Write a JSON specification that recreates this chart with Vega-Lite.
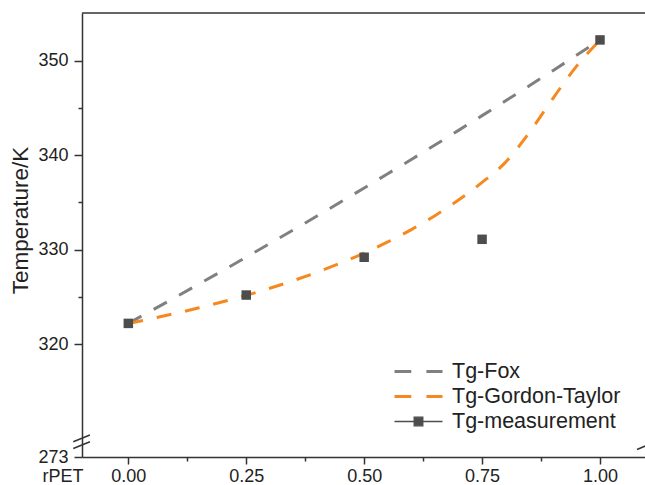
{
  "$schema": "https://vega.github.io/schema/vega-lite/v6.json",
  "width": 563,
  "height": 444,
  "autosize": "none",
  "padding": {"left": 82, "top": 13, "right": 0, "bottom": 28},
  "background": "white",
  "config": {"view": {"stroke": null}, "font": "Liberation Sans"},
  "datasets": {
    "measure": [
      {"x": 0, "T": 322.2},
      {"x": 0.25, "T": 325.2},
      {"x": 0.5, "T": 329.2},
      {"x": 0.75, "T": 331.1},
      {"x": 1, "T": 352.2}
    ],
    "fox": [
      {"x": 0, "T": 322.2}, {"x": 0.05, "T": 323.58}, {"x": 0.1, "T": 324.97}, {"x": 0.15, "T": 326.37},
      {"x": 0.2, "T": 327.78}, {"x": 0.25, "T": 329.21}, {"x": 0.3, "T": 330.65}, {"x": 0.35, "T": 332.1},
      {"x": 0.4, "T": 333.56}, {"x": 0.45, "T": 335.04}, {"x": 0.5, "T": 336.53}, {"x": 0.55, "T": 338.04},
      {"x": 0.6, "T": 339.55}, {"x": 0.65, "T": 341.08}, {"x": 0.7, "T": 342.63}, {"x": 0.75, "T": 344.19},
      {"x": 0.8, "T": 345.76}, {"x": 0.85, "T": 347.35}, {"x": 0.9, "T": 348.95}, {"x": 0.95, "T": 350.57},
      {"x": 1, "T": 352.2}
    ],
    "gt": [
      {"x": 0, "T": 322.2}, {"x": 0.05, "T": 322.71}, {"x": 0.1, "T": 323.26}, {"x": 0.15, "T": 323.85},
      {"x": 0.2, "T": 324.49}, {"x": 0.25, "T": 325.17}, {"x": 0.3, "T": 325.92}, {"x": 0.35, "T": 326.73},
      {"x": 0.4, "T": 327.61}, {"x": 0.45, "T": 328.58}, {"x": 0.5, "T": 329.64}, {"x": 0.55, "T": 330.82},
      {"x": 0.6, "T": 332.13}, {"x": 0.65, "T": 333.6}, {"x": 0.7, "T": 335.25}, {"x": 0.75, "T": 337.12},
      {"x": 0.8, "T": 339.27}, {"x": 0.85, "T": 342.4}, {"x": 0.9, "T": 346.0}, {"x": 0.95, "T": 349.4},
      {"x": 1, "T": 352.2}
    ],
    "series": [
      {"series": "Tg-Fox"}, {"series": "Tg-Gordon-Taylor"}, {"series": "Tg-measurement"}
    ]
  },
  "layer": [
    {
      "data": {"name": "fox"},
      "mark": {"type": "line", "color": "#808080", "strokeWidth": 3, "strokeDash": [15, 14], "interpolate": "monotone"},
      "encoding": {
        "x": {
          "field": "x", "type": "quantitative",
          "scale": {"domain": [-0.0982, 1.0954], "nice": false, "zero": false},
          "axis": {
            "title": "rPET",
            "values": [0, 0.125, 0.25, 0.375, 0.5, 0.625, 0.75, 0.875, 1],
            "labelExpr": "(datum.value * 8) % 2 == 1 ? '' : format(datum.value, '.2f')",
            "tickSize": {"condition": {"test": "(datum.value * 8) % 2 == 1", "value": 4}, "value": 7},
            "grid": false,
            "domainColor": "#333333", "domainWidth": 1.5,
            "tickColor": "#333333", "tickWidth": 1.5,
            "labelFontSize": 18, "labelColor": "#222222", "labelPadding": 3, "labelFlush": false,
            "titleFontSize": 18, "titleFontWeight": "normal", "titleColor": "#222222",
            "titleAnchor": "start", "titleAlign": "left", "titleBaseline": "alphabetic",
            "titleX": -40, "titleY": 24.5
          }
        },
        "y": {
          "field": "T", "type": "quantitative",
          "scale": {"domain": [308.06, 355.05], "nice": false, "zero": false},
          "axis": {
            "title": "Temperature/K",
            "values": [308.06, 320, 325, 330, 335, 340, 345, 350],
            "labelExpr": "datum.value < 310 ? '273' : (datum.value % 10 == 0 ? datum.label : '')",
            "tickSize": {"condition": {"test": "datum.value % 10 == 5", "value": 4}, "value": 8},
            "grid": false,
            "domainColor": "#333333", "domainWidth": 1.5,
            "tickColor": "#333333", "tickWidth": 1.5,
            "labelFontSize": 18, "labelColor": "#222222", "labelPadding": 6, "labelFlush": false,
            "titleFontSize": 22.5, "titleFontWeight": "normal", "titleColor": "#222222",
            "titleBaseline": "middle", "titleAlign": "center", "titleAngle": -90,
            "titleX": -62, "titleY": 207
          }
        }
      }
    },
    {
      "data": {"name": "gt"},
      "mark": {"type": "line", "color": "#f5891f", "strokeWidth": 3, "strokeDash": [15, 14], "interpolate": "monotone"},
      "encoding": {
        "x": {"field": "x", "type": "quantitative"},
        "y": {"field": "T", "type": "quantitative"}
      }
    },
    {
      "data": {"values": [{}]},
      "mark": {"type": "rule", "color": "#333333", "strokeWidth": 1.5},
      "encoding": {
        "x": {"datum": -0.0982, "type": "quantitative"},
        "x2": {"datum": 1.0954},
        "y": {"datum": 355.05, "type": "quantitative"}
      }
    },
    {
      "data": {"values": [{}]},
      "mark": {"type": "rule", "color": "#333333", "strokeWidth": 1.5},
      "encoding": {
        "x": {"datum": -0.1167, "type": "quantitative"},
        "x2": {"datum": -0.0814},
        "y": {"datum": 309.68, "type": "quantitative"},
        "y2": {"datum": 310.39}
      }
    },
    {
      "data": {"values": [{}]},
      "mark": {"type": "rule", "color": "#333333", "strokeWidth": 1.5},
      "encoding": {
        "x": {"datum": -0.1167, "type": "quantitative"},
        "x2": {"datum": -0.0814},
        "y": {"datum": 308.96, "type": "quantitative"},
        "y2": {"datum": 309.67}
      }
    },
    {
      "data": {"values": [{}]},
      "mark": {"type": "rule", "color": "#333333", "strokeWidth": 1.5},
      "encoding": {
        "x": {"datum": 1.0785, "type": "quantitative"},
        "x2": {"datum": 1.112},
        "y": {"datum": 308.85, "type": "quantitative"},
        "y2": {"datum": 309.56}
      }
    },
    {
      "data": {"name": "series"},
      "transform": [{"filter": "false"}],
      "mark": {"type": "point", "filled": true, "opacity": 1},
      "encoding": {
        "fill": {
          "field": "series", "type": "nominal",
          "scale": {"domain": ["Tg-Fox", "Tg-Gordon-Taylor", "Tg-measurement"], "range": ["#808080", "#f5891f", "#4d4d4d"]},
          "legend": {"title": null, "orient": "none", "legendX": 311, "legendY": 347, "symbolSize": 2304, "clipHeight": 23, "rowPadding": 2, "labelFontSize": 21.5, "labelColor": "#222222", "labelOffset": 8, "labelLimit": 300}
        },
        "stroke": {
          "field": "series", "type": "nominal",
          "scale": {"domain": ["Tg-Fox", "Tg-Gordon-Taylor", "Tg-measurement"], "range": ["#808080", "#f5891f", "#4d4d4d"]},
          "legend": {"title": null, "orient": "none", "legendX": 311, "legendY": 347, "symbolSize": 2304, "clipHeight": 23, "rowPadding": 2, "labelFontSize": 21.5, "labelColor": "#222222", "labelOffset": 8, "labelLimit": 300}
        },
        "shape": {
          "field": "series", "type": "nominal",
          "scale": {"domain": ["Tg-Fox", "Tg-Gordon-Taylor", "Tg-measurement"], "range": ["M-1,0H-0.3M0.33,0H1", "M-1,0H-0.3M0.33,0H1", "M-1,0H1M-0.18,-0.18H0.18V0.18H-0.18Z"]},
          "legend": {"title": null, "orient": "none", "legendX": 311, "legendY": 347, "symbolSize": 2304, "clipHeight": 23, "rowPadding": 2, "labelFontSize": 21.5, "labelColor": "#222222", "labelOffset": 8, "labelLimit": 300}
        },
        "strokeWidth": {
          "field": "series", "type": "nominal",
          "scale": {"type": "ordinal", "domain": ["Tg-Fox", "Tg-Gordon-Taylor", "Tg-measurement"], "range": [3, 3, 1.3]},
          "legend": {"title": null, "orient": "none", "legendX": 311, "legendY": 347, "symbolSize": 2304, "clipHeight": 23, "rowPadding": 2, "labelFontSize": 21.5, "labelColor": "#222222", "labelOffset": 8, "labelLimit": 300}
        }
      }
    },
    {
      "data": {"name": "measure"},
      "mark": {"type": "point", "shape": "square", "filled": true, "size": 90, "color": "#4d4d4d", "opacity": 1},
      "encoding": {
        "x": {"field": "x", "type": "quantitative"},
        "y": {"field": "T", "type": "quantitative"}
      }
    }
  ]
}
